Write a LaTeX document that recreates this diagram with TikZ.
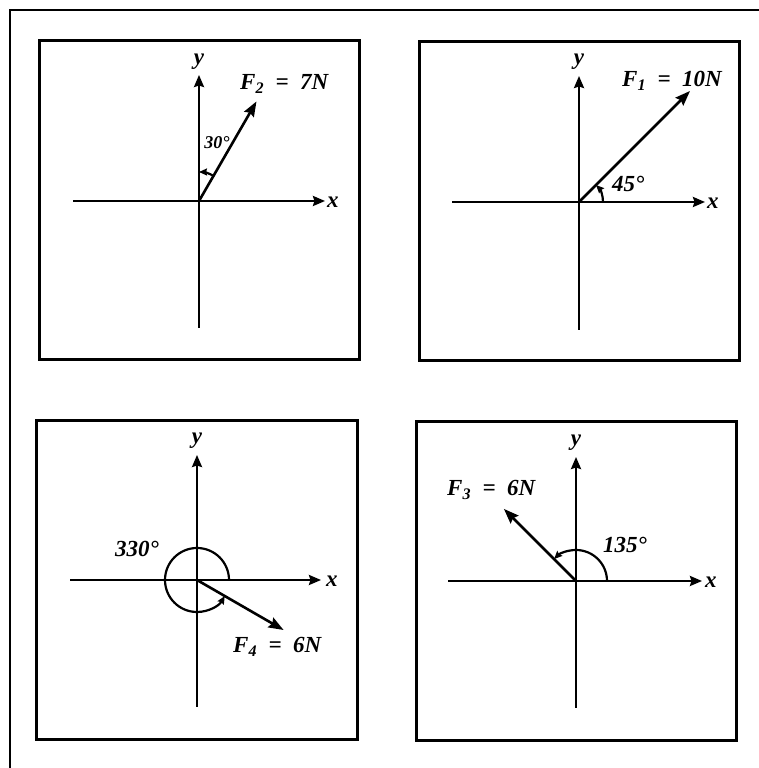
\documentclass[tikz,border=0pt]{standalone}
\usepackage{fontspec}
\setmainfont{Liberation Serif}
\usetikzlibrary{arrows.meta}

\begin{document}
\begin{tikzpicture}[x=1pt,y=1pt,
  panel/.style={line width=3pt},
  axis/.style={line width=2.2pt,-{Stealth[length=12pt,width=10pt,inset=1.5pt]}},
  force/.style={line width=2.6pt,-{Stealth[length=15pt,width=11pt,inset=2pt]}},
  angarc/.style={line width=2.2pt,-{Stealth[length=8pt,width=7pt,inset=1pt]}},
  lbl/.style={font=\fontsize{23}{23}\selectfont\bfseries\itshape,inner sep=0pt},
  smalllbl/.style={font=\fontsize{18}{18}\selectfont\bfseries\itshape,inner sep=0pt}]
  \useasboundingbox (0,0) rectangle (759,768);
  \draw[line width=2pt] (10,0) -- (10,758) -- (759,758);
  % ---- Top left: F2 at 30 deg from y ----
  \begin{scope}[shift={(199,567)}]
    \draw[panel] (-160,-159) rectangle (160,160);
    \coordinate (o2) at (0,0);
    \coordinate (w2) at (-126,0);
    \coordinate (e2) at (126,0);
    \coordinate (s2) at (0,-127);
    \coordinate (n2) at (0,126);
    \coordinate (t2) at (60:115);
    \draw[axis] (w2) -- (e2);
    \draw[axis] (s2) -- (n2);
    \node[lbl,anchor=west] (x2) at (128,-1) {x};
    \node[lbl] (y2) at (0,139) {y};
    \draw[force] (o2) -- (t2);
    \draw[angarc] (60:29) arc[start angle=60,end angle=90,radius=29];
    \node[smalllbl] (a2) at (18,58) {30°};
    \node[lbl,anchor=base west] (f2) at (41,111) {F\textsubscript{2}\enspace=\enspace7N};
  \end{scope}
  % ---- Top right: F1 at 45 deg ----
  \begin{scope}[shift={(579,566)}]
    \draw[panel] (-160,-159) rectangle (160,160);
    \coordinate (o1) at (0,0);
    \coordinate (w1) at (-127,0);
    \coordinate (e1) at (126,0);
    \coordinate (s1) at (0,-128);
    \coordinate (n1) at (0,126);
    \coordinate (t1) at (45:157);
    \draw[axis] (w1) -- (e1);
    \draw[axis] (s1) -- (n1);
    \node[lbl,anchor=west] (x1) at (128,-1) {x};
    \node[lbl] (y1) at (0,140) {y};
    \draw[force] (o1) -- (t1);
    \draw[angarc] (24,0) arc[start angle=0,end angle=45,radius=24];
    \node[lbl,anchor=base west] (a1) at (33,10) {45°};
    \node[lbl,anchor=base west] (f1) at (43,115) {F\textsubscript{1}\enspace=\enspace10N};
  \end{scope}
  % ---- Bottom left: F4 at 330 deg ----
  \begin{scope}[shift={(197,188)}]
    \draw[panel] (-161,-160) rectangle (160,159);
    \coordinate (o4) at (0,0);
    \coordinate (w4) at (-127,0);
    \coordinate (e4) at (124,0);
    \coordinate (s4) at (0,-127);
    \coordinate (n4) at (0,125);
    \coordinate (t4) at (-30:100);
    \draw[axis] (w4) -- (e4);
    \draw[axis] (s4) -- (n4);
    \node[lbl,anchor=west] (x4) at (129,-1) {x};
    \node[lbl] (y4) at (0,139) {y};
    \draw[force] (o4) -- (t4);
    \draw[angarc] (32,0) arc[start angle=0,end angle=330,radius=32];
    \node[lbl,anchor=base west] (a4) at (-82,23) {330°};
    \node[lbl,anchor=base west] (f4) at (36,-73) {F\textsubscript{4}\enspace=\enspace6N};
  \end{scope}
  % ---- Bottom right: F3 at 135 deg ----
  \begin{scope}[shift={(576,187)}]
    \draw[panel] (-160,-160) rectangle (160,159);
    \coordinate (o3) at (0,0);
    \coordinate (w3) at (-128,0);
    \coordinate (e3) at (126,0);
    \coordinate (s3) at (0,-127);
    \coordinate (n3) at (0,124);
    \coordinate (t3) at (135:102);
    \draw[axis] (w3) -- (e3);
    \draw[axis] (s3) -- (n3);
    \node[lbl,anchor=west] (x3) at (129,-1) {x};
    \node[lbl] (y3) at (0,138) {y};
    \draw[force] (o3) -- (t3);
    \draw[angarc] (31,0) arc[start angle=0,end angle=135,radius=31];
    \node[lbl,anchor=base west] (a3) at (27,28) {135°};
    \node[lbl,anchor=base west] (f3) at (-129,85) {F\textsubscript{3}\enspace=\enspace6N};
  \end{scope}
\end{tikzpicture}
\end{document}
